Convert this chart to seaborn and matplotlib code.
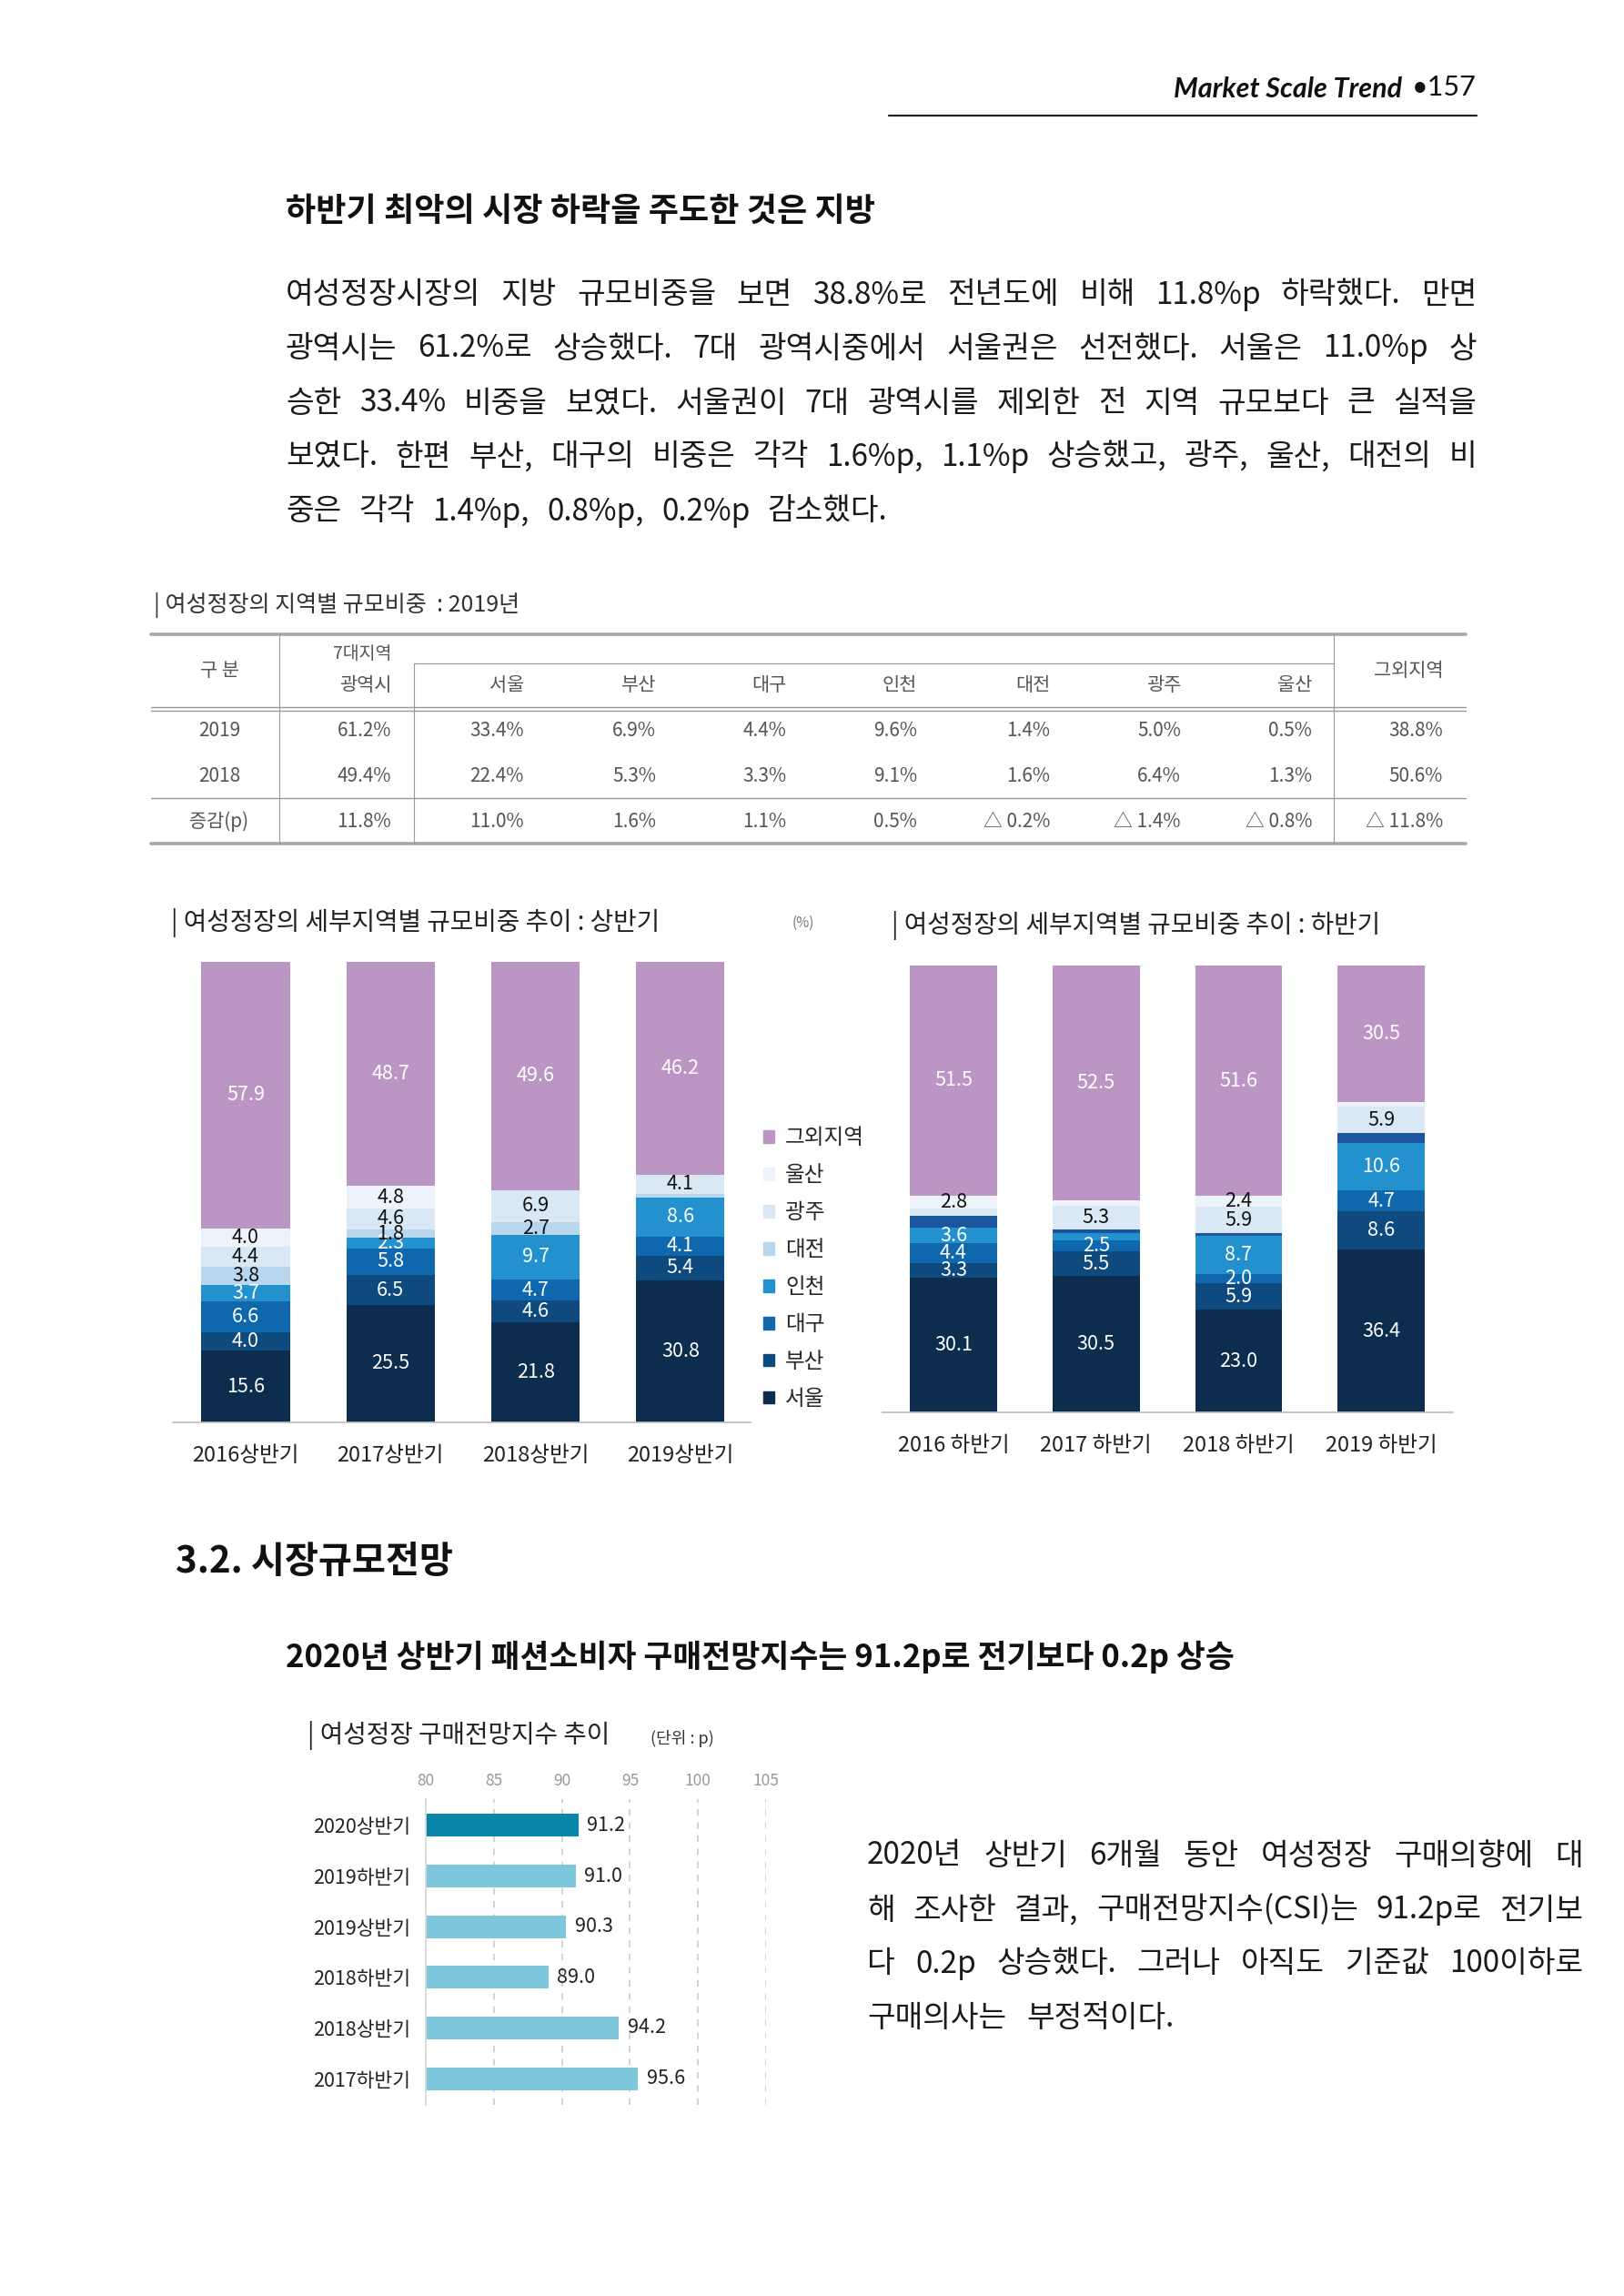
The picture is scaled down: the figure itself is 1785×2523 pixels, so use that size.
import matplotlib
matplotlib.use("Agg")
import matplotlib.pyplot as plt
from matplotlib.lines import Line2D
from matplotlib.patches import Patch
import seaborn as sns
import pandas as pd

sns.set_theme(style="white")
plt.rcParams['font.family'] = ['Noto Sans CJK KR', 'DejaVu Sans']

W, H = 1785, 2523

# 지역 순서 (아래 -> 위)
regions = ['서울', '부산', '대구', '인천', '대전', '광주', '울산', '그외지역']

# 상반기 규모비중 (%)
h1_periods = ['2016상반기', '2017상반기', '2018상반기', '2019상반기']
h1_2016 = [15.6, 4.0, 6.6, 3.7, 3.8, 4.4, 4.0, 57.9]
h1_2017 = [25.5, 6.5, 5.8, 2.3, 1.8, 4.6, 4.8, 48.7]
h1_2018 = [21.8, 4.6, 4.7, 9.7, 2.7, 6.9, 0.0, 49.6]
h1_2019 = [30.8, 5.4, 4.1, 8.6, 0.8, 4.1, 0.0, 46.2]

# 하반기 규모비중 (%)
h2_periods = ['2016 하반기', '2017 하반기', '2018 하반기', '2019 하반기']
h2_2016 = [30.1, 3.3, 4.4, 3.6, 2.6, 1.7, 2.8, 51.5]
h2_2017 = [30.5, 5.5, 2.5, 1.7, 0.7, 5.3, 1.3, 52.5]
h2_2018 = [23.0, 5.9, 2.0, 8.7, 0.5, 5.9, 2.4, 51.6]
h2_2019 = [36.4, 8.6, 4.7, 10.6, 2.2, 5.9, 1.1, 30.5]

# 2019년 지역별 규모비중 표
tbl_cols = ['서울', '부산', '대구', '인천', '대전', '광주', '울산']
row_2019 = ['61.2%', '33.4%', '6.9%', '4.4%', '9.6%', '1.4%', '5.0%', '0.5%', '38.8%']
row_2018 = ['49.4%', '22.4%', '5.3%', '3.3%', '9.1%', '1.6%', '6.4%', '1.3%', '50.6%']
row_diff = ['11.8%', '11.0%', '1.6%', '1.1%', '0.5%', '△ 0.2%', '△ 1.4%', '△ 0.8%', '△ 11.8%']

# 구매전망지수
csi_periods = ['2020상반기', '2019하반기', '2019상반기', '2018하반기', '2018상반기', '2017하반기']
csi_values = [91.2, 91.0, 90.3, 89.0, 94.2, 95.6]

colors = {'서울': '#0c2d4e', '부산': '#0e4a7e', '대구': '#0f67ae', '인천': '#2491cf',
          '대전': '#b8d6ee', '광주': '#dae8f5', '울산': '#edf3fa', '그외지역': '#bb96c4'}
colors_h2 = dict(colors, 대전='#1c55a0')
dark_text = {'대전', '광주', '울산'}

fig = plt.figure(figsize=(W / 100, H / 100), dpi=100)


def fx(x):
    return x / W


def fy(y):
    return 1 - y / H


def txt(x, y, s, **kw):
    kw.setdefault('va', 'center')
    return fig.text(fx(x), fy(y), s, **kw)


def hline(y, x0, x1, lw=1.0, color='#999999'):
    fig.add_artist(Line2D([fx(x0), fx(x1)], [fy(y), fy(y)], lw=lw, color=color))


def vline(x, y0, y1, lw=1.0, color='#999999'):
    fig.add_artist(Line2D([fx(x), fx(x)], [fy(y0), fy(y1)], lw=lw, color=color))


def justified(lines, x0, x1, ys, size):
    r = fig.canvas.get_renderer()
    gap = 0
    for k, (line, y) in enumerate(zip(lines, ys)):
        words = line.split()
        ts = [txt(0, y, w, fontsize=size, color='#1a1a1a') for w in words]
        ws = [t.get_window_extent(r).width for t in ts]
        if k < len(lines) - 1:
            gap = (x1 - x0 - sum(ws)) / (len(ws) - 1)
        x = x0
        for t, w in zip(ts, ws):
            t.set_x(fx(x))
            x += w + gap


# ---- 머리글
txt(1541, 98, 'Market Scale Trend', ha='right', fontsize=22, fontweight='bold',
    style='italic', family=['Lato', 'DejaVu Sans'], color='#111')
txt(1623, 96, '•157', ha='right', fontsize=22, family=['Lato', 'DejaVu Sans'], color='#111')
hline(127, 977, 1623, lw=1.6, color='#222')

# ---- 본문 1
txt(314, 232, '하반기 최악의 시장 하락을 주도한 것은 지방', fontsize=26, fontweight='bold', color='#111')
para1 = ['여성정장시장의 지방 규모비중을 보면 38.8%로 전년도에 비해 11.8%p 하락했다. 만면',
         '광역시는 61.2%로 상승했다. 7대 광역시중에서 서울권은 선전했다. 서울은 11.0%p 상',
         '승한 33.4% 비중을 보였다. 서울권이 7대 광역시를 제외한 전 지역 규모보다 큰 실적을',
         '보였다. 한편 부산, 대구의 비중은 각각 1.6%p, 1.1%p 상승했고, 광주, 울산, 대전의 비',
         '중은 각각 1.4%p, 0.8%p, 0.2%p 감소했다.']
justified(para1, 314, 1623, [324, 383, 443, 502, 562], 24)

# ---- 표
txt(169, 665, '| 여성정장의 지역별 규모비중  : 2019년', fontsize=18, color='#333')
tc = '#555555'
hline(697, 166, 1611, lw=2.6, color='#a6a6a6')
hline(729, 455, 1466, lw=0.9)
hline(777, 166, 1611, lw=1.0)
hline(781, 166, 1611, lw=1.0)
hline(877, 166, 1611, lw=1.0)
hline(927, 166, 1611, lw=2.6, color='#a6a6a6')
vline(307, 697, 927, lw=0.8)
vline(455, 729, 927, lw=0.8)
vline(1466, 697, 927, lw=0.8)
col_right = [430, 576, 721, 864, 1008, 1154, 1298, 1442, 1586]
txt(241, 737, '구 분', ha='center', fontsize=15, color=tc)
txt(430, 718, '7대지역', ha='right', fontsize=14, color=tc)
txt(430, 753, '광역시', ha='right', fontsize=15, color=tc)
for c, xr in zip(tbl_cols, col_right[1:8]):
    txt(xr, 753, c, ha='right', fontsize=15, color=tc)
txt(1586, 737, '그외지역', ha='right', fontsize=15, color=tc)
for label, row, y in [('2019', row_2019, 803), ('2018', row_2018, 853), ('증감(p)', row_diff, 903)]:
    txt(241, y, label, ha='center', fontsize=15, color=tc)
    for v, xr in zip(row, col_right):
        txt(xr, y, v, ha='right', fontsize=15, color=tc)


# ---- 누적 막대
def stacked(ax, periods, rows, pal, skip=()):
    df = pd.DataFrame(rows, index=periods, columns=regions)
    cum = df.cumsum(axis=1)
    for reg in regions[::-1]:
        sns.barplot(x=periods, y=cum[reg].values, color=pal[reg], width=0.61,
                    saturation=1, linewidth=0, ax=ax)
    for i, p in enumerate(periods):
        for reg in regions:
            v = df.loc[p, reg]
            if v < 1.8 or reg in skip:
                continue
            ax.text(i, cum.loc[p, reg] - v / 2, f'{v:.1f}', ha='center', va='center',
                    fontsize=15.5, color='#111' if reg in dark_text else 'white')
    ax.set_ylim(0, 100)
    ax.set_yticks([])
    ax.set_ylabel('')
    sns.despine(ax=ax, left=True)
    ax.spines['bottom'].set_color('#bfbfbf')
    ax.tick_params(axis='x', length=0, pad=18, labelsize=17, labelcolor='#222')


ax1 = fig.add_axes([fx(190), fy(1563), 635 / W, 506 / H])
stacked(ax1, h1_periods, [h1_2016, h1_2017, h1_2018, h1_2019], colors)
ax1.set_xlim(-0.502, 3.484)

ax2 = fig.add_axes([fx(970), fy(1552), 627 / W, 491 / H])
stacked(ax2, h2_periods, [h2_2016, h2_2017, h2_2018, h2_2019], colors_h2, skip=('대전',))
ax2.set_xlim(-0.498, 3.503)

txt(188, 1014, '| 여성정장의 세부지역별 규모비중 추이 : 상반기', fontsize=20, color='#222')
txt(871, 1014, '(%)', fontsize=11, color='#777')
txt(980, 1017, '| 여성정장의 세부지역별 규모비중 추이 : 하반기', fontsize=20, color='#222')

handles = [Patch(color=colors[r]) for r in regions[::-1]]
fig.legend(handles, regions[::-1], loc='upper left', bbox_to_anchor=(fx(830), fy(1230)),
           frameon=False, fontsize=17, labelspacing=0.76, handlelength=0.5,
           handleheight=0.5, handletextpad=0.5, borderaxespad=0)

# ---- 3.2 시장규모전망
txt(193, 1716, '3.2. 시장규모전망', fontsize=29, fontweight='bold', color='#111')
txt(314, 1821, '2020년 상반기 패션소비자 구매전망지수는 91.2p로 전기보다 0.2p 상승',
    fontsize=25, fontweight='bold', color='#111')
txt(338, 1907, '| 여성정장 구매전망지수 추이', fontsize=20, color='#222')
txt(715, 1911, '(단위 : p)', fontsize=13, color='#333')

ax3 = fig.add_axes([fx(468), fy(2313), 374 / W, 336 / H])
sns.barplot(x=csi_values, y=csi_periods, hue=csi_periods, orient='h', legend=False,
            palette=['#0a86a8'] + ['#7fc7dc'] * 5, width=0.45, saturation=1,
            linewidth=0, ax=ax3)
for cont in ax3.containers:
    ax3.bar_label(cont, fmt='%.1f', padding=7, fontsize=15.5, color='#222')
ax3.set_xlim(80, 105)
ax3.set_ylim(5.52, -0.52)
ax3.set_xticks([80, 85, 90, 95, 100, 105])
ax3.xaxis.tick_top()
ax3.tick_params(axis='x', length=0, pad=8, labelsize=12.5, labelcolor='#999')
ax3.tick_params(axis='y', length=0, pad=12, labelsize=15.5, labelcolor='#222')
ax3.xaxis.grid(True, ls=(0, (4, 4)), color='#d0d0d0', lw=1.3)
ax3.set_axisbelow(True)
for s in ['top', 'right', 'bottom']:
    ax3.spines[s].set_visible(False)
ax3.spines['left'].set_color('#d9d9d9')
ax3.set_xlabel('')
ax3.set_ylabel('')

para2 = ['2020년 상반기 6개월 동안 여성정장 구매의향에 대',
         '해 조사한 결과, 구매전망지수(CSI)는 91.2p로 전기보',
         '다 0.2p 상승했다. 그러나 아직도 기준값 100이하로',
         '구매의사는 부정적이다.']
justified(para2, 953, 1740, [2039, 2099, 2158, 2218], 24)

fig.savefig('out.png', dpi=100, facecolor='white')
